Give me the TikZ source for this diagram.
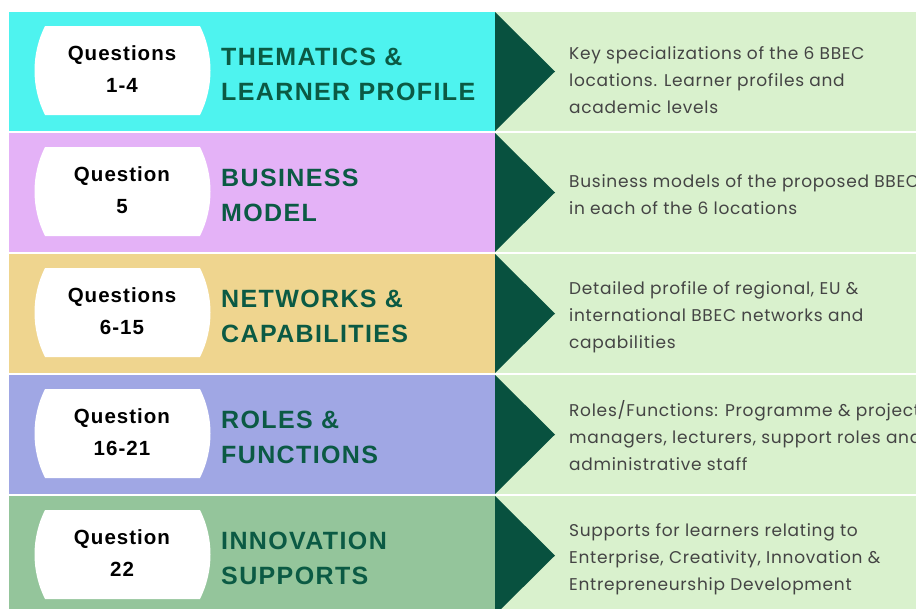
\documentclass[tikz,border=0pt]{standalone}
\usepackage{fontspec}
\setmainfont{Poppins}
\newfontfamily\labelfont[LetterSpace=5]{Liberation Sans}
\newfontfamily\titlefont[LetterSpace=5.5]{Liberation Sans}
\newfontfamily\descfont[LetterSpace=4.2]{Poppins}
\definecolor{bandA}{HTML}{4EF3EF}
\definecolor{bandB}{HTML}{E4B2F7}
\definecolor{bandC}{HTML}{EFD58F}
\definecolor{bandD}{HTML}{A0A7E4}
\definecolor{bandE}{HTML}{94C59B}
\definecolor{panel}{HTML}{D9F1CD}
\definecolor{pointer}{HTML}{08513F}
\definecolor{titlegreen}{HTML}{0B5A44}
\definecolor{desctext}{HTML}{444444}
\tikzset{
  labeltext/.style={font=\labelfont\bfseries\fontsize{20.5}{32}\selectfont, text=black, align=center, inner sep=0pt},
  titletext/.style={font=\titlefont\bfseries\fontsize{25}{34.5}\selectfont, text=titlegreen, align=left, anchor=west, inner sep=0pt},
  desctext/.style={font=\descfont\fontsize{17}{27}\selectfont, text=desctext, align=left, anchor=west, inner sep=0pt},
  pill/.style={fill=white},
  pointerfill/.style={fill=pointer},
}
% #1 name, #2 top y, #3 band colour, #4 label, #5 title, #6 description, #7 description offset
\newcommand\bandrow[7]{%
  \pgfmathsetmacro\rt{#2}%
  \pgfmathsetmacro\rb{#2+119}%
  \pgfmathsetmacro\rc{#2+59.5}%
  \pgfmathsetmacro\pt{#2+14}%
  \pgfmathsetmacro\pb{#2+103}%
  \pgfmathsetmacro\pc{#2+58.5}%
  \fill[#3] (9,\rt) rectangle (495,\rb);
  \fill[panel] (495,\rt) rectangle (930,\rb);
  \fill[pointerfill] (495,\rt) -- (555,\rc) -- (495,\rb) -- cycle;
  \fill[pill] (45,\pt) -- (200,\pt)
     .. controls (214,\pt+28) and (214,\pb-28) .. (200,\pb)
     -- (45,\pb)
     .. controls (31,\pb-28) and (31,\pt+28) .. (45,\pt) -- cycle;
  \node[labeltext] (#1-label) at (122,\pc-1) {#4};
  \node[titletext] (#1-title) at (221,\rc+3) {#5};
  \node[desctext] (#1-desc) at (569,\rc+#7) {#6};
}
\begin{document}
\begin{tikzpicture}[x=1pt,y=-1pt]
\useasboundingbox (0,0) rectangle (916,608);
\clip (0,0) rectangle (916,608);
\fill[white] (0,0) rectangle (916,608);
\bandrow{thematics}{12}{bandA}{Questions\\1-4}{THEMATICS \&\\LEARNER PROFILE}{Key specializations of the 6 BBEC\\locations. Learner profiles and\\academic levels}{9}
\bandrow{business}{133}{bandB}{Question\\5}{BUSINESS\\MODEL}{Business models of the proposed BBEC\\in each of the 6 locations}{2}
\bandrow{networks}{254}{bandC}{Questions\\6-15}{NETWORKS \&\\CAPABILITIES}{Detailed profile of regional, EU \&\\international BBEC networks and\\capabilities}{4}
\bandrow{roles}{375}{bandD}{Question\\16-21}{ROLES \&\\FUNCTIONS}{Roles/Functions: Programme \& project\\managers, lecturers, support roles and\\administrative staff}{1}
\bandrow{innovation}{496}{bandE}{Question\\22}{INNOVATION\\SUPPORTS}{Supports for learners relating to\\Enterprise, Creativity, Innovation \&\\Entrepreneurship Development}{4}
\end{tikzpicture}
\end{document}
